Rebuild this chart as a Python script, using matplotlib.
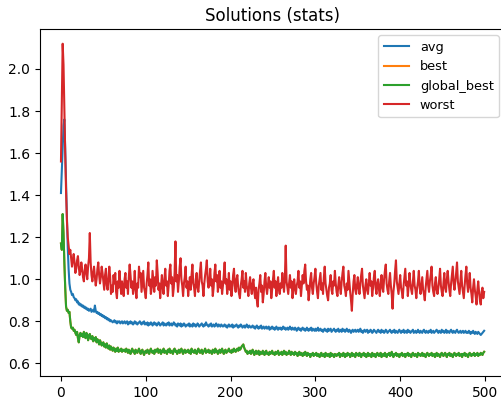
import numpy as np
import matplotlib
matplotlib.use("Agg")
import matplotlib.pyplot as plt

# ---------------------------------------------------------------------------
# Data (one value per iteration, 0..499)
# ---------------------------------------------------------------------------
avg = [
    1.41, 1.52, 1.63, 1.73, 1.76, 1.62, 1.45, 1.30, 1.15, 1.05, 0.98, 0.95, 0.94, 0.925, 0.93, 0.915, 0.91, 0.90, 0.905, 0.89, 0.895, 0.88, 0.885, 0.875, 0.88,
    0.87, 0.875, 0.865, 0.87, 0.86, 0.865, 0.855, 0.86, 0.85, 0.855, 0.86, 0.845, 0.85, 0.855, 0.845, 0.875, 0.85, 0.84, 0.845, 0.835, 0.84, 0.83, 0.835, 0.825, 0.83,
    0.82, 0.825, 0.815, 0.82, 0.81, 0.815, 0.805, 0.81, 0.80, 0.805, 0.80, 0.795, 0.80, 0.805, 0.795, 0.80, 0.79, 0.80, 0.795, 0.80, 0.79, 0.795, 0.80, 0.79, 0.795,
    0.80, 0.79, 0.795, 0.80, 0.785, 0.795, 0.79, 0.80, 0.79, 0.795, 0.785, 0.79, 0.80, 0.79, 0.795, 0.785, 0.79, 0.795, 0.80, 0.79, 0.785, 0.795, 0.79, 0.80, 0.785,
    0.79, 0.785, 0.795, 0.78, 0.79, 0.785, 0.795, 0.79, 0.78, 0.79, 0.795, 0.785, 0.79, 0.78, 0.785, 0.795, 0.79, 0.78, 0.785, 0.79, 0.795, 0.78, 0.79, 0.785, 0.78,
    0.79, 0.785, 0.795, 0.78, 0.785, 0.79, 0.78, 0.785, 0.795, 0.79, 0.78, 0.785, 0.775, 0.79, 0.785, 0.78, 0.79, 0.775, 0.785, 0.78, 0.79, 0.785, 0.775, 0.78, 0.785,
    0.78, 0.79, 0.775, 0.785, 0.78, 0.775, 0.79, 0.78, 0.785, 0.775, 0.78, 0.79, 0.785, 0.775, 0.78, 0.785, 0.79, 0.78, 0.775, 0.785, 0.78, 0.795, 0.785, 0.78, 0.775,
    0.785, 0.78, 0.79, 0.775, 0.78, 0.785, 0.775, 0.78, 0.79, 0.78, 0.775, 0.785, 0.78, 0.775, 0.785, 0.78, 0.775, 0.78, 0.785, 0.775, 0.78, 0.77, 0.78, 0.785, 0.775,
    0.78, 0.775, 0.785, 0.77, 0.78, 0.775, 0.78, 0.785, 0.775, 0.77, 0.78, 0.775, 0.785, 0.78, 0.77, 0.775, 0.78, 0.77, 0.775, 0.785, 0.775, 0.77, 0.78, 0.775, 0.77,
    0.775, 0.78, 0.77, 0.775, 0.765, 0.775, 0.78, 0.77, 0.765, 0.775, 0.77, 0.78, 0.765, 0.77, 0.775, 0.765, 0.77, 0.775, 0.765, 0.77, 0.775, 0.76, 0.77, 0.765, 0.775,
    0.765, 0.77, 0.76, 0.765, 0.775, 0.765, 0.76, 0.77, 0.765, 0.77, 0.76, 0.765, 0.775, 0.765, 0.77, 0.76, 0.765, 0.77, 0.76, 0.765, 0.775, 0.765, 0.76, 0.77, 0.765,
    0.76, 0.77, 0.765, 0.755, 0.765, 0.77, 0.76, 0.765, 0.755, 0.765, 0.77, 0.76, 0.765, 0.755, 0.76, 0.77, 0.76, 0.755, 0.765, 0.76, 0.77, 0.755, 0.765, 0.76, 0.755,
    0.765, 0.755, 0.76, 0.77, 0.755, 0.76, 0.765, 0.755, 0.76, 0.75, 0.76, 0.765, 0.755, 0.76, 0.75, 0.765, 0.755, 0.76, 0.765, 0.75, 0.755, 0.76, 0.765, 0.755, 0.75,
    0.76, 0.755, 0.765, 0.75, 0.755, 0.76, 0.75, 0.765, 0.755, 0.76, 0.75, 0.755, 0.765, 0.755, 0.75, 0.76, 0.755, 0.745, 0.755, 0.76, 0.75, 0.755, 0.76, 0.75, 0.755,
    0.76, 0.75, 0.755, 0.765, 0.75, 0.755, 0.745, 0.755, 0.76, 0.75, 0.755, 0.76, 0.745, 0.755, 0.75, 0.76, 0.755, 0.745, 0.75, 0.76, 0.755, 0.75, 0.745, 0.755, 0.76,
    0.75, 0.755, 0.745, 0.76, 0.75, 0.755, 0.745, 0.75, 0.76, 0.755, 0.745, 0.75, 0.755, 0.76, 0.75, 0.745, 0.755, 0.75, 0.76, 0.745, 0.755, 0.75, 0.745, 0.755, 0.76,
    0.75, 0.745, 0.755, 0.75, 0.76, 0.745, 0.75, 0.755, 0.745, 0.76, 0.75, 0.755, 0.745, 0.75, 0.755, 0.76, 0.745, 0.75, 0.755, 0.745, 0.75, 0.76, 0.75, 0.745, 0.755,
    0.75, 0.745, 0.755, 0.76, 0.75, 0.745, 0.755, 0.75, 0.745, 0.755, 0.75, 0.76, 0.745, 0.75, 0.755, 0.745, 0.75, 0.755, 0.76, 0.75, 0.745, 0.755, 0.75, 0.745, 0.76,
    0.75, 0.755, 0.745, 0.75, 0.76, 0.745, 0.755, 0.75, 0.745, 0.755, 0.76, 0.75, 0.745, 0.755, 0.75, 0.745, 0.755, 0.76, 0.75, 0.745, 0.75, 0.755, 0.745, 0.75, 0.755,
    0.745, 0.75, 0.755, 0.745, 0.75, 0.745, 0.755, 0.75, 0.74, 0.75, 0.745, 0.755, 0.745, 0.74, 0.75, 0.745, 0.74, 0.75, 0.745, 0.74, 0.735, 0.74, 0.745, 0.75, 0.755,
]

global_best = [
    1.17, 1.14, 1.31, 1.22, 1.08, 0.96, 0.87, 0.85, 0.855, 0.84, 0.845, 0.80, 0.77, 0.765, 0.77, 0.755, 0.76, 0.745, 0.735, 0.75, 0.72, 0.70, 0.735, 0.745, 0.73,
    0.74, 0.725, 0.75, 0.73, 0.72, 0.745, 0.735, 0.71, 0.73, 0.74, 0.72, 0.715, 0.73, 0.705, 0.72, 0.71, 0.725, 0.70, 0.715, 0.705, 0.69, 0.71, 0.70, 0.685, 0.695,
    0.70, 0.68, 0.69, 0.675, 0.695, 0.68, 0.67, 0.685, 0.665, 0.68, 0.67, 0.66, 0.675, 0.665, 0.655, 0.67, 0.66, 0.675, 0.655, 0.665, 0.66, 0.67, 0.655, 0.665, 0.66,
    0.665, 0.655, 0.67, 0.66, 0.65, 0.665, 0.655, 0.645, 0.66, 0.67, 0.655, 0.66, 0.645, 0.665, 0.655, 0.65, 0.66, 0.67, 0.655, 0.645, 0.66, 0.665, 0.65, 0.64, 0.655,
    0.66, 0.65, 0.665, 0.655, 0.645, 0.66, 0.67, 0.655, 0.65, 0.66, 0.645, 0.665, 0.655, 0.66, 0.67, 0.65, 0.655, 0.665, 0.645, 0.66, 0.655, 0.67, 0.65, 0.66, 0.655,
    0.645, 0.665, 0.655, 0.67, 0.65, 0.66, 0.655, 0.645, 0.665, 0.67, 0.655, 0.66, 0.645, 0.655, 0.665, 0.65, 0.66, 0.67, 0.655, 0.645, 0.66, 0.665, 0.65, 0.66, 0.655,
    0.665, 0.65, 0.66, 0.645, 0.67, 0.655, 0.66, 0.65, 0.665, 0.655, 0.645, 0.66, 0.67, 0.655, 0.65, 0.66, 0.665, 0.645, 0.655, 0.66, 0.67, 0.65, 0.66, 0.655, 0.665,
    0.65, 0.66, 0.655, 0.645, 0.665, 0.66, 0.65, 0.67, 0.655, 0.66, 0.645, 0.655, 0.665, 0.65, 0.66, 0.67, 0.655, 0.645, 0.66, 0.665, 0.65, 0.655, 0.66, 0.67, 0.655,
    0.66, 0.65, 0.665, 0.655, 0.67, 0.66, 0.655, 0.665, 0.67, 0.66, 0.675, 0.665, 0.67, 0.68, 0.685, 0.69, 0.675, 0.665, 0.655, 0.66, 0.645, 0.655, 0.65, 0.66, 0.645,
    0.655, 0.665, 0.65, 0.64, 0.655, 0.66, 0.645, 0.65, 0.66, 0.64, 0.655, 0.65, 0.645, 0.66, 0.65, 0.64, 0.655, 0.66, 0.645, 0.65, 0.64, 0.655, 0.645, 0.65, 0.66,
    0.645, 0.65, 0.64, 0.655, 0.645, 0.65, 0.66, 0.64, 0.65, 0.645, 0.655, 0.64, 0.65, 0.66, 0.645, 0.655, 0.64, 0.65, 0.645, 0.66, 0.65, 0.64, 0.655, 0.645, 0.65,
    0.64, 0.655, 0.645, 0.65, 0.635, 0.645, 0.655, 0.64, 0.65, 0.645, 0.635, 0.65, 0.64, 0.655, 0.645, 0.635, 0.65, 0.64, 0.645, 0.63, 0.645, 0.64, 0.65, 0.635, 0.645,
    0.64, 0.65, 0.635, 0.645, 0.64, 0.63, 0.645, 0.65, 0.635, 0.64, 0.645, 0.63, 0.65, 0.64, 0.635, 0.645, 0.64, 0.63, 0.65, 0.635, 0.645, 0.64, 0.63, 0.645, 0.64,
    0.635, 0.645, 0.64, 0.65, 0.63, 0.645, 0.64, 0.635, 0.65, 0.64, 0.63, 0.645, 0.635, 0.65, 0.64, 0.645, 0.63, 0.64, 0.65, 0.635, 0.645, 0.64, 0.63, 0.65, 0.64,
    0.645, 0.635, 0.65, 0.64, 0.63, 0.645, 0.64, 0.65, 0.635, 0.645, 0.63, 0.64, 0.65, 0.635, 0.645, 0.64, 0.63, 0.65, 0.64, 0.635, 0.645, 0.63, 0.64, 0.65, 0.64,
    0.635, 0.645, 0.65, 0.63, 0.64, 0.645, 0.635, 0.65, 0.64, 0.63, 0.645, 0.64, 0.65, 0.635, 0.64, 0.655, 0.64, 0.63, 0.645, 0.64, 0.65, 0.635, 0.645, 0.64, 0.63,
    0.645, 0.64, 0.65, 0.635, 0.64, 0.645, 0.63, 0.645, 0.64, 0.65, 0.635, 0.645, 0.64, 0.63, 0.645, 0.65, 0.64, 0.635, 0.645, 0.64, 0.63, 0.65, 0.64, 0.645, 0.635,
    0.64, 0.65, 0.635, 0.645, 0.64, 0.63, 0.645, 0.65, 0.64, 0.635, 0.645, 0.64, 0.65, 0.635, 0.64, 0.645, 0.63, 0.64, 0.65, 0.635, 0.645, 0.64, 0.63, 0.645, 0.65,
    0.64, 0.635, 0.645, 0.65, 0.64, 0.63, 0.645, 0.64, 0.65, 0.635, 0.645, 0.64, 0.63, 0.645, 0.65, 0.64, 0.635, 0.645, 0.64, 0.65, 0.635, 0.64, 0.645, 0.63, 0.645,
    0.64, 0.65, 0.635, 0.645, 0.64, 0.63, 0.645, 0.65, 0.64, 0.635, 0.645, 0.64, 0.65, 0.635, 0.645, 0.64, 0.65, 0.635, 0.645, 0.64, 0.65, 0.645, 0.64, 0.65, 0.655,
]

# best is hidden under global_best in the reference
best = list(global_best)

worst = [
    1.56, 1.85, 2.12, 2.02, 1.80, 1.60, 1.42, 1.28, 1.20, 1.16, 1.12, 1.14, 1.10, 1.06, 1.09, 1.12, 1.08, 1.03, 1.05, 1.09, 1.11, 1.06, 1.02, 1.04, 1.08,
    1.05, 1.01, 0.99, 1.04, 1.07, 1.03, 1.00, 1.06, 1.10, 1.22, 1.08, 1.02, 0.99, 1.03, 1.06, 1.01, 0.97, 1.00, 1.05, 1.08, 1.02, 0.98, 1.01, 1.06, 1.03,
    0.99, 0.95, 1.02, 1.05, 0.97, 0.95, 1.00, 1.06, 1.01, 0.93, 0.97, 0.94, 1.02, 0.98, 1.03, 0.94, 0.91, 0.99, 0.96, 1.04, 0.98, 0.93, 0.99, 0.95, 0.92,
    1.00, 1.03, 0.96, 0.99, 0.93, 1.01, 1.07, 1.02, 0.96, 0.99, 0.93, 0.97, 1.04, 0.95, 0.91, 0.98, 0.96, 1.06, 1.01, 1.03, 0.94, 0.99, 1.04, 0.96, 0.94,
    0.91, 0.98, 1.02, 1.08, 0.97, 1.00, 0.93, 0.96, 1.04, 0.99, 0.94, 1.01, 0.97, 1.09, 1.03, 0.95, 0.98, 0.91, 0.97, 1.02, 0.96, 0.93, 1.00, 1.05, 0.97,
    0.99, 0.92, 0.97, 1.04, 1.07, 0.98, 1.01, 0.92, 0.96, 1.03, 1.18, 0.99, 1.02, 0.94, 0.99, 1.06, 1.10, 1.00, 0.97, 0.92, 0.98, 1.01, 1.06, 0.96, 0.99,
    0.92, 0.97, 1.01, 0.95, 1.02, 1.07, 0.98, 0.96, 0.92, 1.00, 1.03, 0.96, 0.94, 0.99, 1.04, 1.08, 0.99, 0.97, 0.92, 0.98, 1.02, 1.05, 1.09, 0.99, 0.96,
    0.99, 1.05, 0.97, 1.00, 0.92, 0.96, 1.03, 1.07, 0.99, 1.02, 0.94, 0.98, 1.04, 0.96, 0.99, 0.93, 0.97, 1.02, 1.08, 0.98, 1.00, 0.93, 0.97, 1.03, 0.95,
    0.99, 0.92, 0.96, 1.02, 1.05, 0.97, 0.94, 1.00, 1.02, 0.96, 0.93, 0.91, 0.97, 1.00, 1.04, 0.96, 0.99, 0.94, 1.03, 0.97, 0.95, 0.92, 0.98, 1.01, 0.96,
    0.93, 0.98, 1.00, 0.94, 0.91, 0.96, 0.90, 0.87, 0.95, 0.98, 1.02, 0.94, 0.97, 0.89, 0.93, 0.99, 1.03, 0.96, 0.93, 0.97, 1.01, 0.96, 0.99, 0.91, 0.95,
    1.00, 1.04, 0.96, 0.99, 0.92, 0.97, 1.01, 0.95, 0.93, 0.98, 0.96, 1.03, 0.98, 0.94, 1.00, 1.16, 0.99, 0.96, 0.93, 0.98, 1.02, 0.96, 0.99, 0.91, 0.95,
    1.00, 0.96, 0.93, 0.97, 0.99, 1.04, 0.96, 0.99, 0.92, 0.97, 1.02, 0.98, 1.04, 1.07, 0.99, 0.95, 0.97, 0.90, 0.94, 1.00, 1.03, 0.96, 0.93, 0.98, 1.01,
    1.05, 0.98, 0.94, 0.91, 0.97, 1.00, 1.03, 0.95, 0.98, 0.93, 1.01, 1.06, 0.98, 0.95, 0.92, 0.90, 0.96, 0.98, 1.02, 0.95, 0.93, 0.99, 0.97, 1.04, 0.98,
    0.94, 0.92, 0.97, 1.01, 0.96, 0.93, 0.99, 1.03, 1.06, 0.97, 0.95, 0.92, 0.98, 0.95, 1.04, 0.99, 0.94, 0.90, 0.85, 0.93, 0.99, 1.02, 0.95, 0.93, 0.97,
    1.01, 0.96, 0.93, 0.98, 1.02, 1.05, 0.97, 0.94, 0.91, 0.97, 1.00, 0.95, 0.93, 0.98, 1.03, 0.97, 0.99, 0.92, 0.96, 1.01, 1.04, 0.96, 0.93, 0.98, 1.00,
    0.95, 0.92, 0.98, 1.02, 0.96, 0.94, 1.00, 1.04, 1.07, 0.98, 0.95, 0.93, 0.99, 1.03, 0.97, 0.93, 0.86, 0.94, 0.98, 1.04, 1.09, 0.99, 0.96, 0.93, 0.98,
    1.02, 0.96, 0.94, 0.91, 0.97, 1.01, 1.05, 0.97, 0.99, 0.92, 0.97, 1.03, 0.98, 0.95, 0.93, 0.99, 1.04, 0.97, 0.95, 0.91, 0.96, 0.99, 1.04, 0.96, 0.93,
    0.97, 1.01, 0.95, 0.93, 0.90, 0.96, 1.00, 1.04, 0.97, 0.94, 0.99, 1.02, 1.06, 0.97, 0.94, 0.92, 0.98, 1.01, 0.95, 0.93, 0.96, 1.00, 1.05, 0.97, 0.94,
    0.92, 0.98, 1.03, 0.96, 0.94, 1.00, 1.04, 0.99, 0.95, 0.92, 0.98, 1.02, 1.06, 0.98, 0.95, 0.99, 1.03, 1.08, 0.99, 0.96, 0.93, 0.99, 1.04, 0.97, 0.94,
    0.91, 0.97, 1.02, 1.06, 0.98, 0.94, 0.98, 1.03, 0.96, 0.93, 0.89, 0.96, 1.00, 0.95, 0.92, 0.88, 0.95, 0.99, 0.94, 0.90, 0.88, 0.94, 0.96, 0.91, 0.94,
]

series = [
    ("avg", avg, "#1f77b4"),
    ("best", best, "#ff7f0e"),
    ("global_best", global_best, "#2ca02c"),
    ("worst", worst, "#d62728"),
]

# ---------------------------------------------------------------------------
# Figure
# ---------------------------------------------------------------------------
fig = plt.figure(figsize=(5.02, 4.0), dpi=100)
ax = fig.add_axes([0.0793, 0.06, 0.9273, 0.8675])

for name, values, color in series:
    ax.plot(np.arange(len(values)), values, color=color, linewidth=1.5, label=name)

ax.set_xlim(-24.95, 523.95)
ax.set_ylim(0.54, 2.19)
ax.set_xticks([0, 100, 200, 300, 400, 500])
ax.set_yticks([0.6, 0.8, 1.0, 1.2, 1.4, 1.6, 1.8, 2.0])
ax.tick_params(labelsize=10)
ax.set_title("Solutions (stats)", fontsize=12)
ax.legend(loc="upper right", fontsize=9.3)

fig.savefig("out.png", dpi=100)
